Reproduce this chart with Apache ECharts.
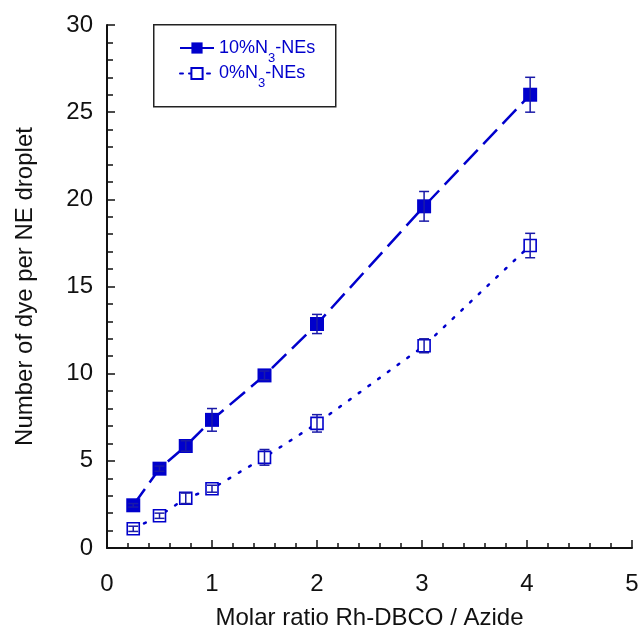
<!DOCTYPE html>
<html>
<head>
<meta charset="utf-8">
<script src="https://cdn.jsdelivr.net/npm/echarts@6/dist/echarts.min.js"></script>
<style>
  html, body { margin: 0; padding: 0; background: #fff; }
  #chart { width: 642px; height: 637px; }
</style>
</head>
<body>
<div id="chart"></div>
<script>
// molar ratio on x
var ratio = [0.25, 0.5, 0.75, 1.0, 1.5, 2.0, 3.02, 4.03];
// dyes per droplet, 10% N3
var dye10 = [2.45, 4.55, 5.85, 7.35, 9.9, 12.85, 19.6, 26.0];
var err10 = [0.1, 0.15, 0.3, 0.65, 0.25, 0.55, 0.85, 1.0];
// dyes per droplet, 0% N3
var dye0 = [1.1, 1.85, 2.85, 3.4, 5.2, 7.15, 11.6, 17.35];
var err0 = [0.15, 0.15, 0.3, 0.2, 0.45, 0.5, 0.4, 0.7];

var blue = '#0000cc';
var barBlue = '#1a1aa8';

function pts(ys) {
  return ratio.map(function (x, i) { return [x, ys[i]]; });
}
function bars(ys, es) {
  return ratio.map(function (x, i) { return [x, ys[i] - es[i], ys[i] + es[i]]; });
}

function renderBar(params, api) {
  var x = api.value(0);
  var top = api.coord([x, api.value(2)]);
  var bot = api.coord([x, api.value(1)]);
  var w = 5;
  var st = { stroke: barBlue, lineWidth: 1.5 };
  return {
    type: 'group',
    children: [
      { type: 'line', shape: { x1: top[0], y1: top[1], x2: bot[0], y2: bot[1] }, style: st },
      { type: 'line', shape: { x1: top[0] - w, y1: top[1], x2: top[0] + w, y2: top[1] }, style: st },
      { type: 'line', shape: { x1: bot[0] - w, y1: bot[1], x2: bot[0] + w, y2: bot[1] }, style: st }
    ]
  };
}

var name10 = '10%N3-NEs';
var name0 = '0%N3-NEs';

var chart = echarts.init(document.getElementById('chart'));
chart.setOption({
  backgroundColor: '#fff',
  animation: false,
  textStyle: { fontFamily: 'Liberation Sans, Arial, sans-serif' },
  grid: { left: 107, right: 10, top: 25, bottom: 89 },
  xAxis: {
    type: 'value', min: 0, max: 5, interval: 1,
    name: 'Molar ratio Rh-DBCO / Azide',
    nameLocation: 'middle', nameGap: 58,
    nameTextStyle: { fontSize: 24, color: '#111' },
    axisLine: { lineStyle: { color: '#111', width: 2 } },
    axisTick: { inside: true, length: 8, lineStyle: { color: '#111', width: 1.5 } },
    minorTick: { show: true, splitNumber: 5, length: 5, lineStyle: { color: '#111', width: 1.5 } },
    axisLabel: { fontSize: 24, color: '#111', margin: 24 },
    splitLine: { show: false }
  },
  yAxis: {
    type: 'value', min: 0, max: 30, interval: 5,
    name: 'Number of dye per NE droplet',
    nameLocation: 'middle', nameGap: 70,
    nameTextStyle: { fontSize: 24, color: '#111' },
    axisLine: { show: true, lineStyle: { color: '#111', width: 2 } },
    axisTick: { inside: true, length: 8, lineStyle: { color: '#111', width: 1.5 } },
    minorTick: { show: true, splitNumber: 5, length: 6, lineStyle: { color: '#111', width: 1.5 } },
    axisLabel: { fontSize: 24, color: '#111', margin: 14 },
    splitLine: { show: false }
  },
  graphic: [{
    type: 'rect', left: 153, top: 24,
    shape: { width: 182, height: 82 },
    style: { fill: '#fff', stroke: '#222', lineWidth: 1.5 },
    z: 0
  }],
  legend: {
    orient: 'vertical', left: 174, top: 34,
    itemWidth: 34, itemHeight: 14, itemGap: 0,
    data: [
      { name: name10, lineStyle: { type: 'solid', width: 2 } },
      { name: name0, lineStyle: { type: [3, 6], width: 2 } }
    ],
    formatter: function (n) { return n.replace('N3', 'N{sub|3}'); },
    textStyle: {
      fontSize: 18, color: blue,
      rich: { sub: { fontSize: 13, color: blue, padding: [20, 0, 0, 0] } }
    },
    z: 5
  },
  series: [
    {
      name: name10, type: 'line', data: pts(dye10),
      symbol: 'rect', symbolSize: 14,
      itemStyle: { color: blue },
      lineStyle: { color: blue, width: 2.5, type: [20, 8] },
      z: 3
    },
    {
      name: name0, type: 'line', data: pts(dye0),
      symbol: 'rect', symbolSize: 12,
      itemStyle: { color: '#fff', borderColor: blue, borderWidth: 1.6 },
      lineStyle: { color: blue, width: 2.5, type: [2, 10], cap: 'round' },
      z: 3
    },
    {
      name: 'err10', type: 'custom', data: bars(dye10, err10),
      renderItem: renderBar, z: 4, silent: true
    },
    {
      name: 'err0', type: 'custom', data: bars(dye0, err0),
      renderItem: renderBar, z: 4, silent: true
    }
  ]
});
</script>
</body>
</html>
